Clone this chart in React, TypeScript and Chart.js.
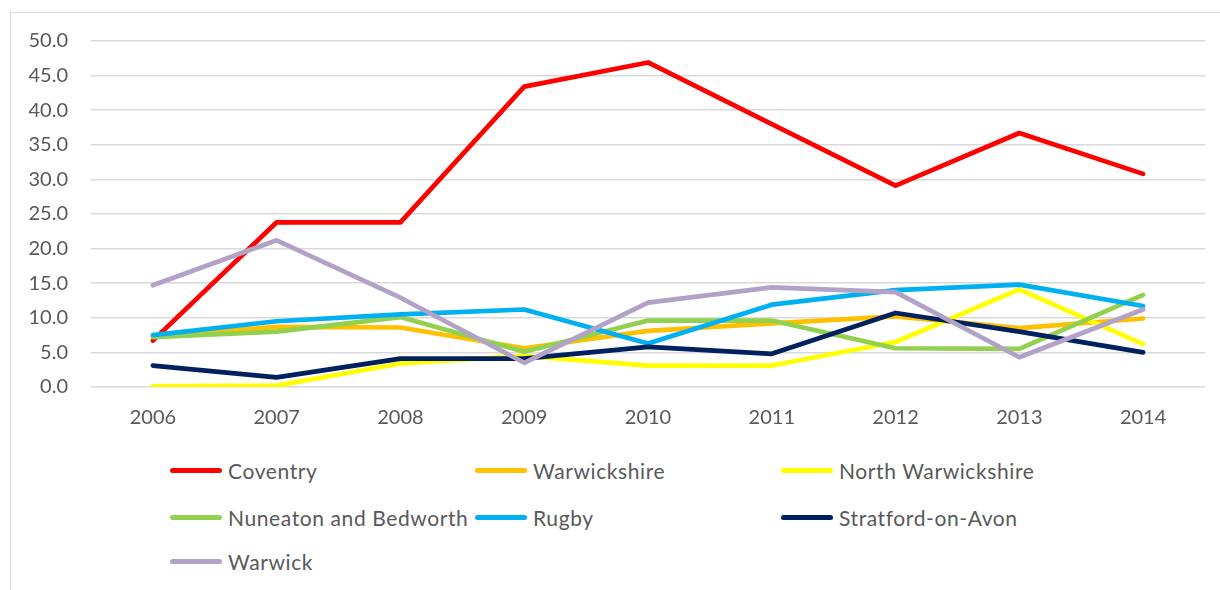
import React, { useEffect, useRef } from "react";
import { Chart, registerables } from "chart.js";

Chart.register(...registerables);

const years = ["2006", "2007", "2008", "2009", "2010", "2011", "2012", "2013", "2014"];

const seriesNames = [
  "Coventry",
  "Warwickshire",
  "North Warwickshire",
  "Nuneaton and Bedworth",
  "Rugby",
  "Stratford-on-Avon",
  "Warwick",
];

const coventry = [6.7, 23.8, 23.8, 43.4, 46.9, 38.0, 29.1, 36.7, 30.8];
const warwickshire = [7.3, 8.7, 8.6, 5.6, 8.1, 9.2, 10.2, 8.5, 9.9];
const northWarwickshire = [0.1, 0.2, 3.4, 4.5, 3.1, 3.1, 6.5, 14.1, 6.2];
const nuneaton = [7.2, 8.0, 10.1, 5.1, 9.6, 9.6, 5.6, 5.5, 13.3];
const rugby = [7.5, 9.5, 10.5, 11.2, 6.3, 11.9, 14.0, 14.8, 11.7];
const stratford = [3.1, 1.4, 4.1, 4.1, 5.8, 4.8, 10.7, 8.0, 5.0];
const warwick = [14.7, 21.2, 12.9, 3.5, 12.2, 14.4, 13.7, 4.3, 11.2];

const seriesValues = [coventry, warwickshire, northWarwickshire, nuneaton, rugby, stratford, warwick];
const seriesColors = ["#ff0000", "#ffc000", "#ffff00", "#92d050", "#00b0f0", "#002060", "#b3a2c7"];

const yTicks = [0, 5, 10, 15, 20, 25, 30, 35, 40, 45, 50];

const FONT = "Lato, 'Noto Sans', sans-serif";
const TEXT = "#595959";

export default function App() {
  const ref = useRef<HTMLCanvasElement | null>(null);

  useEffect(() => {
    if (!ref.current) return;
    const n = seriesNames.length;
    const chart = new Chart(ref.current, {
      type: "line",
      data: {
        labels: years,
        datasets: seriesNames.map((name, i) => ({
          label: name,
          data: seriesValues[i],
          borderColor: seriesColors[i],
          backgroundColor: seriesColors[i],
          borderWidth: 4.7,
          pointRadius: 0,
          pointHoverRadius: 0,
          tension: 0,
          fill: false,
          borderCapStyle: "round" as const,
          borderJoinStyle: "round" as const,
          order: n - 1 - i,
        })),
      },
      options: {
        animation: false,
        responsive: false,
        maintainAspectRatio: false,
        devicePixelRatio: 1,
        layout: { padding: { left: 10, top: 41, right: 15, bottom: 0 } },
        plugins: {
          legend: { display: false },
          tooltip: { enabled: false },
          title: { display: false },
        },
        scales: {
          x: {
            type: "category",
            offset: true,
            grid: { display: false, drawTicks: false },
            border: { display: false },
            ticks: {
              color: TEXT,
              font: { family: FONT, size: 20 },
              padding: 19,
              maxRotation: 0,
              autoSkip: false,
            },
            afterFit: (s: any) => {
              s.height = 53;
            },
          },
          y: {
            type: "linear",
            min: yTicks[0],
            max: yTicks[yTicks.length - 1],
            afterBuildTicks: (s: any) => {
              s.ticks = yTicks.map((v) => ({ value: v }));
            },
            ticks: {
              color: TEXT,
              font: { family: FONT, size: 20 },
              padding: 23,
              callback: (v: any) => Number(v).toFixed(1),
            },
            grid: { color: "#d9d9d9", lineWidth: 1.5, drawTicks: false },
            border: { display: false },
            afterFit: (s: any) => {
              s.width = 81;
            },
          },
        },
      },
    });
    return () => chart.destroy();
  }, []);

  const colX = [170, 475, 781];
  const rowY = [470, 517, 561];

  return (
    <div
      style={{
        position: "absolute",
        left: 0,
        top: 0,
        width: 1220,
        height: 590,
        overflow: "hidden",
        background: "#ffffff",
        fontFamily: FONT,
      }}
    >
      <div
        style={{
          position: "absolute",
          left: 10,
          top: 12,
          width: 1230,
          height: 600,
          border: "1.5px solid #d9d9d9",
          boxSizing: "border-box",
        }}
      />
      <canvas
        ref={ref}
        width={1220}
        height={440}
        style={{ position: "absolute", left: 0, top: 0, width: 1220, height: 440 }}
      />
      {seriesNames.map((name, i) => {
        const col = i % 3;
        const row = Math.floor(i / 3);
        return (
          <div
            key={name}
            style={{
              position: "absolute",
              left: colX[col],
              top: rowY[row] - 15,
              height: 30,
              display: "flex",
              alignItems: "center",
              whiteSpace: "nowrap",
            }}
          >
            <span
              style={{
                display: "inline-block",
                width: 52,
                height: 5,
                borderRadius: 3,
                background: seriesColors[i],
                marginRight: 6,
              }}
            />
            <span style={{ color: TEXT, fontSize: 21, letterSpacing: "0.6px" }}>{name}</span>
          </div>
        );
      })}
    </div>
  );
}
